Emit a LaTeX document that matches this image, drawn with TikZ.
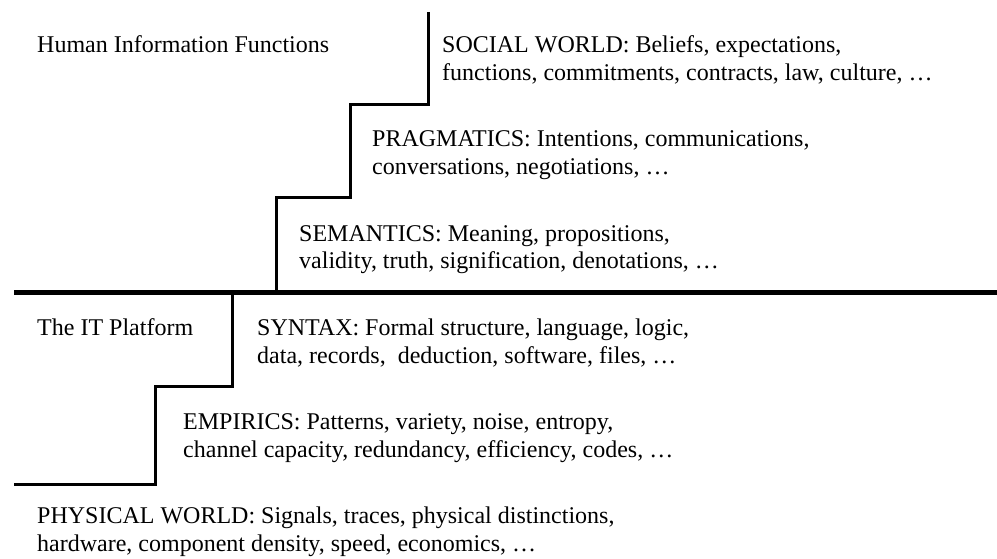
\documentclass[tikz,border=0pt]{standalone}
\usepackage{fontspec}
\setmainfont{Liberation Serif}
\begin{document}
\begin{tikzpicture}[x=1pt,y=-1pt,
  lbl/.style={anchor=base west,inner sep=0pt,align=left,font=\fontsize{24}{28}\selectfont},
  stepline/.style={line width=3pt,line join=miter},
  mainline/.style={line width=5pt}]
\useasboundingbox (0,0) rectangle (997,559);
% coordinates of the staircases
\coordinate (u0) at (428,12);
\coordinate (u1) at (428,105);
\coordinate (u2) at (350,105);
\coordinate (u3) at (350,198);
\coordinate (u4) at (276,198);
\coordinate (u5) at (276,292);
\coordinate (m0) at (14,292);
\coordinate (m1) at (997,292);
\coordinate (l0) at (232,292);
\coordinate (l1) at (232,386);
\coordinate (l2) at (155,386);
\coordinate (l3) at (155,484);
\coordinate (l4) at (14,484);
\draw[stepline] (u0) -- (u1) -- (u2) -- (u3) -- (u4) -- (u5);
\draw[stepline] (l0) -- (l1) -- (l2) -- (l3) -- (l4);
\draw[mainline] (m0) -- (m1);
% labels (base anchor = baseline of the last line)
\node[lbl] (hif) at (37,53) {Human Information Functions};
\node[lbl] (soc) at (442,81) {SOCIAL WORLD: Beliefs, expectations,\\functions, commitments, contracts, law, culture, …};
\node[lbl] (prag) at (372,175) {PRAGMATICS: Intentions, communications,\\conversations, negotiations, …};
\node[lbl] (sem) at (299,269) {SEMANTICS: Meaning, propositions,\\validity, truth, signification, denotations, …};
\node[lbl] (itp) at (37,335) {The IT Platform};
\node[lbl] (syn) at (257,363) {SYNTAX: Formal structure, language, logic,\\data, records, \ deduction, software, files, …};
\node[lbl] (emp) at (183,457) {EMPIRICS: Patterns, variety, noise, entropy,\\channel capacity, redundancy, efficiency, codes, …};
\node[lbl] (phy) at (37,551) {PHYSICAL WORLD: Signals, traces, physical distinctions,\\hardware, component density, speed, economics, …};
\end{tikzpicture}
\end{document}
